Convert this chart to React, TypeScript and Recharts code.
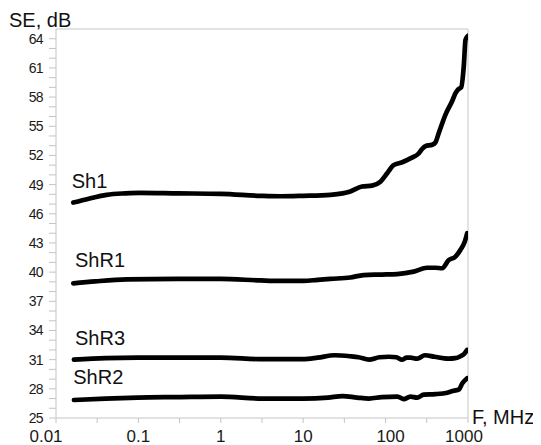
import React from 'react';
import { LineChart, Line, XAxis, YAxis, ReferenceLine, ReferenceDot } from 'recharts';

// ---- data (frequency in MHz, shielding effectiveness in dB) ----
const sh1Freq = [0.0162, 0.025, 0.041, 0.07, 0.105, 0.3, 1, 3, 5.3, 10, 21.4, 30, 37.3, 51.7, 68.5, 86.5, 105, 125, 159, 200, 252, 280, 305, 367, 400, 442, 533, 643, 705, 760, 826, 889, 933, 1000];
const sh1SE = [47.15, 47.55, 47.95, 48.1, 48.15, 48.1, 48.05, 47.85, 47.8, 47.85, 47.95, 48.1, 48.3, 48.8, 48.9, 49.3, 50.2, 51.0, 51.3, 51.7, 52.2, 52.7, 52.95, 53.1, 53.3, 54.3, 56.2, 57.6, 58.4, 58.8, 59.0, 61.2, 63.9, 64.3];

const shR1Freq = [0.0162, 0.03, 0.072, 0.3, 1, 3, 5, 10, 15, 21.3, 37.3, 54, 90, 138, 219, 319, 400, 486, 585, 705, 811, 915, 977];
const shR1SE = [38.85, 39.05, 39.25, 39.3, 39.3, 39.15, 39.1, 39.1, 39.2, 39.3, 39.45, 39.7, 39.75, 39.8, 40.05, 40.45, 40.45, 40.4, 41.25, 41.6, 42.3, 43.15, 44.0];

const shR3Freq = [0.0165, 0.04, 0.098, 0.3, 1, 3.2, 10, 15, 24, 37, 47, 63, 84, 110, 135, 158, 180, 200, 242, 300, 391, 576, 700, 811, 900, 977];
const shR3SE = [31.0, 31.15, 31.2, 31.2, 31.2, 31.05, 31.05, 31.2, 31.45, 31.35, 31.25, 31.0, 31.25, 31.3, 31.25, 31.0, 31.2, 31.2, 31.1, 31.45, 31.3, 31.1, 31.15, 31.35, 31.6, 32.0];

const shR2Freq = [0.0165, 0.04, 0.098, 0.3, 1, 3.2, 10, 20, 30, 45, 63, 90, 139, 166, 200, 242, 290, 400, 560, 670, 780, 850, 900, 977];
const shR2SE = [26.85, 27.0, 27.1, 27.15, 27.2, 27.0, 27.0, 27.1, 27.25, 27.1, 27.0, 27.15, 27.2, 26.95, 27.2, 27.1, 27.4, 27.45, 27.6, 27.8, 27.95, 28.55, 28.8, 29.1];

const xTicks = [0.01, 0.0316, 0.1, 0.316, 1, 3.16, 10, 31.6, 100, 316, 1000];
const xTickLabels = ['0.01', '', '0.1', '', '1', '', '10', '', '100', '', '1000'];
const yTicks = [25, 26, 27, 28, 29, 30, 31, 32, 33, 34, 35, 36, 37, 38, 39, 40, 41, 42, 43, 44, 45, 46, 47, 48, 49, 50, 51, 52, 53, 54, 55, 56, 57, 58, 59, 60, 61, 62, 63, 64];
const yLabelTicks = [25, 28, 31, 34, 37, 40, 43, 46, 49, 52, 55, 58, 61, 64];

const seriesNames = ['Sh1', 'ShR1', 'ShR3', 'ShR2'];
const xTitle = 'F, MHz';
const yTitle = 'SE, dB';

const toPoints = (f: number[], v: number[]) => f.map((x, i) => ({ f: x, se: v[i] }));
const seriesData = [
  toPoints(sh1Freq, sh1SE),
  toPoints(shR1Freq, shR1SE),
  toPoints(shR3Freq, shR3SE),
  toPoints(shR2Freq, shR2SE),
];

// label anchors (data coordinates) for the in-plot series names
const labelAnchors = [
  { f: 0.0155, se: 48.65 },
  { f: 0.017, se: 40.57 },
  { f: 0.017, se: 32.5 },
  { f: 0.0162, se: 28.47 },
];

const FONT = '"Liberation Sans", Arial, sans-serif';
const xLabelShift: Record<string, number> = { '0.01': -10, '100': 5, '1000': -4 };

const XTick = (props: any) => {
  const { x, y, payload } = props;
  const idx = xTicks.indexOf(payload.value);
  const label = idx >= 0 ? xTickLabels[idx] : '';
  if (!label) return <g />;
  return (
    <text x={x + (xLabelShift[label] || 0)} y={y} dy="0.71em" textAnchor="middle" fontSize={17} fontFamily={FONT} fill="#1a1a1a">
      {label}
    </text>
  );
};

const YTick = (props: any) => {
  const { x, y, payload } = props;
  if (!yLabelTicks.includes(payload.value)) return <g />;
  return (
    <text x={x} y={y} dy="0.355em" textAnchor="end" fontSize={14} letterSpacing={-0.6} fontFamily={FONT} fill="#1a1a1a">
      {payload.value}
    </text>
  );
};

const textShape = (txt: string, dx: number, dy: number, size: number) => (p: any) => (
  <text x={p.cx + dx} y={p.cy + dy} fontSize={size} fontFamily={FONT} fill="#111" textAnchor="start">
    {txt}
  </text>
);

export default function App() {
  return (
    <LineChart width={533} height={437} margin={{ top: 21, right: 73, bottom: 0, left: 0 }}>
      <XAxis
        dataKey="f"
        type="number"
        scale="log"
        domain={[0.01, 1000]}
        allowDataOverflow
        ticks={xTicks}
        interval={0}
        height={27}
        tick={<XTick />}
        tickSize={5}
        tickMargin={6.5}
        stroke="#c4c4c4"
        tickLine={{ stroke: '#c4c4c4' }}
        axisLine={{ stroke: '#c4c4c4' }}
      />
      <YAxis
        type="number"
        domain={[25, 65]}
        allowDataOverflow
        ticks={yTicks}
        interval={0}
        width={48}
        tick={<YTick />}
        tickSize={7}
        tickMargin={6}
        stroke="#c4c4c4"
        tickLine={{ stroke: '#c4c4c4' }}
        axisLine={{ stroke: '#c4c4c4' }}
      />
      <ReferenceLine y={65} stroke="#dadada" strokeWidth={1.5} />
      <ReferenceLine x={1000} stroke="#dadada" strokeWidth={1.5} />
      {seriesData.map((d, i) => (
        <Line
          key={seriesNames[i]}
          data={d}
          dataKey="se"
          type="monotone"
          stroke="#000"
          strokeWidth={4.7}
          strokeLinecap="round"
          strokeLinejoin="round"
          dot={false}
          activeDot={false}
          isAnimationActive={false}
        />
      ))}
      {seriesNames.map((n, i) => (
        <ReferenceDot key={'lbl' + n} x={labelAnchors[i].f} y={labelAnchors[i].se} r={0} ifOverflow="visible" shape={textShape(n, 0, 0, 20)} />
      ))}
      <ReferenceDot x={0.01} y={65} r={0} ifOverflow="visible" shape={textShape(yTitle, -47, -2.5, 20)} />
      <ReferenceDot x={1000} y={25} r={0} ifOverflow="visible" shape={textShape(xTitle, 4, 5.5, 20)} />
    </LineChart>
  );
}
